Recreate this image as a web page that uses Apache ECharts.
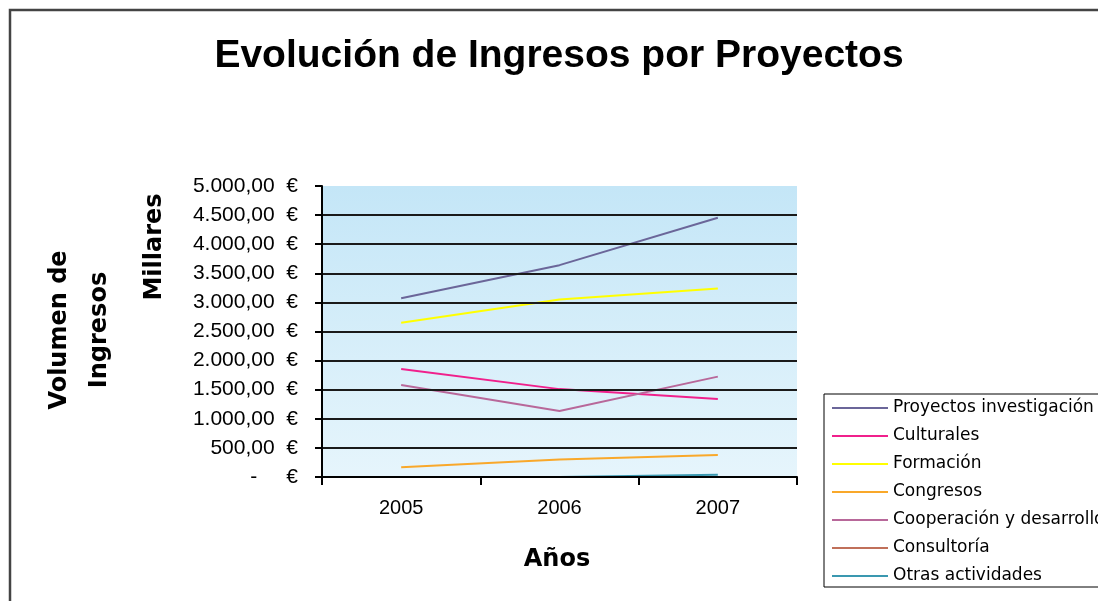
<!DOCTYPE html>
<html>
<head>
<meta charset="utf-8">
<script src="https://cdn.jsdelivr.net/npm/echarts@6/dist/echarts.min.js"></script>
<style>
  html, body { margin: 0; padding: 0; background: #ffffff; }
  #chart { width: 1098px; height: 601px; }
</style>
</head>
<body>
<div id="chart"></div>
<script>
// años (categorías)
const years = ['2005', '2006', '2007'];

// valores en miles de euros
const proyectosInvestigacion = [3070, 3640, 4455];
const culturales = [1855, 1510, 1340];
const formacion = [2650, 3050, 3240];
const congresos = [167, 300, 378];
const cooperacion = [1580, 1135, 1725];
const consultoria = [0, 0, 0];
const otrasActividades = [0, 0, 40];

const seriesNames = [
  'Proyectos investigación', 'Culturales', 'Formación', 'Congresos',
  'Cooperación y desarrollo', 'Consultoría', 'Otras actividades'
];
const seriesValues = [
  proyectosInvestigacion, culturales, formacion, congresos,
  cooperacion, consultoria, otrasActividades
];
const seriesColors = ['#6b6699', '#f0208c', '#ffff00', '#f9a82a', '#b8689a', '#c0705a', '#3a98b0'];

// formato contable: 4.500,00 €
function euro(v) {
  if (v === 0) return '-     €';
  const parts = v.toFixed(2).split('.');
  const miles = parts[0].replace(/\B(?=(\d{3})+(?!\d))/g, '.');
  return miles + ',' + parts[1] + '  €';
}

const chart = echarts.init(document.getElementById('chart'));

const option = {
  animation: false,
  backgroundColor: '#ffffff',
  grid: {
    left: 322,
    right: 301,
    top: 186,
    bottom: 124,
    show: true,
    borderWidth: 0,
    backgroundColor: {
      type: 'linear', x: 0, y: 0, x2: 0, y2: 1,
      colorStops: [
        { offset: 0, color: '#c4e6f7' },
        { offset: 1, color: '#e6f5fc' }
      ]
    }
  },
  legend: {
    orient: 'vertical',
    left: 824,
    top: 394,
    padding: [4, 40, 1, 8],
    itemGap: 8,
    itemWidth: 56,
    itemHeight: 2,
    icon: 'rect',
    backgroundColor: '#ffffff',
    borderColor: '#000000',
    borderWidth: 1,
    borderRadius: 0,
    textStyle: {
      fontFamily: 'DejaVu Sans',
      fontSize: 17,
      color: '#000000',
      lineHeight: 20
    },
    data: seriesNames
  },
  xAxis: {
    type: 'category',
    data: years,
    boundaryGap: true,
    z: 5,
    axisLine: { lineStyle: { color: '#000000', width: 2 } },
    axisTick: { show: true, length: 8, lineStyle: { color: '#000000', width: 2 } },
    axisLabel: {
      color: '#000000',
      fontFamily: 'Liberation Sans',
      fontSize: 20,
      margin: 21
    },
    splitLine: { show: false }
  },
  yAxis: {
    type: 'value',
    min: 0,
    max: 5000,
    interval: 500,
    z: 5,
    axisLine: { show: true, lineStyle: { color: '#000000', width: 2 } },
    axisTick: { show: true, length: 7, lineStyle: { color: '#000000', width: 2 } },
    axisLabel: {
      color: '#000000',
      fontFamily: 'Liberation Sans',
      fontSize: 21,
      margin: 24,
      formatter: euro
    },
    splitLine: {
      show: true,
      showMaxLine: false,
      lineStyle: { color: '#1a1a1a', width: 2 }
    }
  },
  series: seriesNames.map((name, i) => ({
    name: name,
    type: 'line',
    z: 1,
    data: seriesValues[i],
    symbol: 'none',
    smooth: false,
    color: seriesColors[i],
    lineStyle: { width: 2, color: seriesColors[i] }
  })),
  graphic: [
    {
      type: 'rect',
      shape: { x: 10, y: 10, width: 1200, height: 700 },
      style: { fill: 'none', stroke: '#444444', lineWidth: 2.5 },
      silent: true
    },
    {
      type: 'text',
      x: 559, y: 56,
      style: {
        text: 'Evolución de Ingresos por Proyectos',
        font: 'bold 39px "Liberation Sans"',
        fill: '#000000',
        align: 'center',
        verticalAlign: 'middle'
      }
    },
    {
      type: 'text',
      x: 155, y: 247,
      rotation: Math.PI / 2,
      style: {
        text: 'Millares',
        font: 'bold 24px "DejaVu Sans"',
        fill: '#000000',
        align: 'center',
        verticalAlign: 'middle'
      }
    },
    {
      type: 'text',
      x: 80, y: 330,
      rotation: Math.PI / 2,
      style: {
        text: 'Volumen de\nIngresos',
        font: 'bold 24px "DejaVu Sans"',
        lineHeight: 40,
        fill: '#000000',
        align: 'center',
        verticalAlign: 'middle'
      }
    },
    {
      type: 'text',
      x: 557, y: 560,
      style: {
        text: 'Años',
        font: 'bold 24px "DejaVu Sans"',
        fill: '#000000',
        align: 'center',
        verticalAlign: 'middle'
      }
    }
  ]
};

chart.setOption(option);
</script>
</body>
</html>
